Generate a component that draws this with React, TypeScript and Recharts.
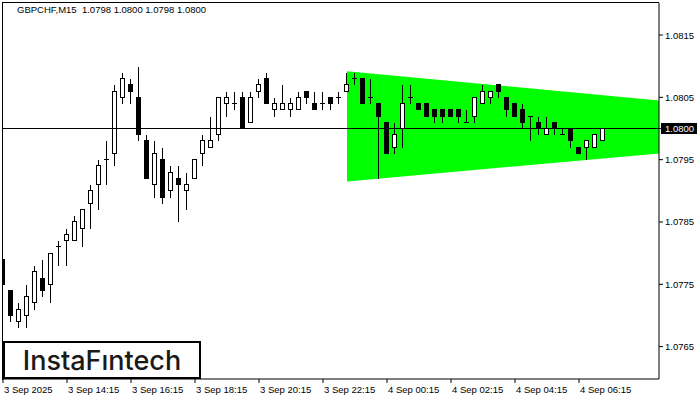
import React from 'react';
import { ComposedChart, Bar, Area, XAxis, YAxis, ReferenceLine } from 'recharts';

// GBPCHF M15 candles, 3 Sep 12:15 .. 4 Sep 07:00
const opens = [
  1.0779, 1.0774, 1.0769, 1.077, 1.0772, 1.0776, 1.0775, 1.0781, 1.0782, 1.0782,
  1.0784, 1.0788, 1.0791, 1.0795, 1.0796, 1.0805, 1.0807, 1.0805, 1.0798, 1.0791,
  1.0795, 1.079, 1.0792, 1.079, 1.0792, 1.0796, 1.0797, 1.0799, 1.0804, 1.0804,
  1.0805, 1.0801, 1.0806, 1.0808, 1.0803, 1.0803, 1.0803, 1.0803, 1.0806, 1.0804,
  1.0804, 1.0805, 1.0805, 1.0806, 1.0808, 1.0808, 1.0805, 1.0804, 1.0801, 1.0797,
  1.08, 1.0805, 1.0804, 1.0804, 1.0803, 1.0803, 1.0803, 1.0803, 1.0801, 1.0802,
  1.0804, 1.0805, 1.0807, 1.0805, 1.0804, 1.0803, 1.0802, 1.0801, 1.0799, 1.0801,
  1.0799, 1.08, 1.0797, 1.0797, 1.0797, 1.0798,
];
const highs = [
  1.0782, 1.0774, 1.0772, 1.0775, 1.0778, 1.0779, 1.078, 1.0782, 1.0784, 1.0786,
  1.0787, 1.0791, 1.0795, 1.0798, 1.0807, 1.0809, 1.0808, 1.081, 1.0799, 1.0798,
  1.0797, 1.0794, 1.0794, 1.0793, 1.0795, 1.0799, 1.0802, 1.0805, 1.0806, 1.0806,
  1.0806, 1.0806, 1.0808, 1.0809, 1.0805, 1.0807, 1.0805, 1.0806, 1.0806, 1.0806,
  1.0806, 1.0805, 1.0806, 1.0809, 1.0809, 1.0808, 1.0808, 1.0804, 1.0801, 1.0801,
  1.0807, 1.0807, 1.0804, 1.0804, 1.0803, 1.0803, 1.0803, 1.0803, 1.0803, 1.0805,
  1.0807, 1.0806, 1.0807, 1.0805, 1.0804, 1.0804, 1.0802, 1.0802, 1.0802, 1.0801,
  1.08, 1.08, 1.0797, 1.0798, 1.0799, 1.08,
];
const lows = [
  1.0774, 1.0769, 1.0768, 1.0768, 1.0771, 1.0773, 1.0772, 1.0778, 1.0778, 1.0782,
  1.0781, 1.0784, 1.0787, 1.0791, 1.0794, 1.0804, 1.0804, 1.0798, 1.0792, 1.0789,
  1.0788, 1.0789, 1.0785, 1.0787, 1.0792, 1.0794, 1.0797, 1.0798, 1.0802, 1.0803,
  1.08, 1.0801, 1.0805, 1.0804, 1.0802, 1.0803, 1.0802, 1.0803, 1.0804, 1.0803,
  1.0803, 1.0803, 1.0804, 1.0806, 1.0807, 1.0804, 1.0804, 1.0792, 1.0796, 1.0796,
  1.0797, 1.0804, 1.0803, 1.0802, 1.0801, 1.0801, 1.0802, 1.0801, 1.0801, 1.0801,
  1.0804, 1.0804, 1.0805, 1.0802, 1.0802, 1.08, 1.0798, 1.0799, 1.0799, 1.0799,
  1.0799, 1.0797, 1.0796, 1.0795, 1.0797, 1.0798,
];
const closes = [
  1.0775, 1.077, 1.0771, 1.0773, 1.0777, 1.0774, 1.078, 1.0781, 1.0783, 1.0785,
  1.0787, 1.079, 1.0794, 1.0795, 1.0806, 1.0808, 1.0806, 1.0799, 1.0792, 1.0796,
  1.0789, 1.0793, 1.0791, 1.0791, 1.0795, 1.0798, 1.0798, 1.0805, 1.0805, 1.0804,
  1.08, 1.0805, 1.0807, 1.0804, 1.0804, 1.0804, 1.0804, 1.0805, 1.0805, 1.0803,
  1.0804, 1.0804, 1.0805, 1.0807, 1.0808, 1.0804, 1.0805, 1.0802, 1.0796, 1.0799,
  1.0804, 1.0805, 1.0803, 1.0802, 1.0802, 1.0802, 1.0802, 1.0802, 1.0801, 1.0805,
  1.0806, 1.0806, 1.0806, 1.0803, 1.0802, 1.0801, 1.0802, 1.08, 1.08, 1.08,
  1.0799, 1.0798, 1.0796, 1.0798, 1.0799, 1.08,
];

const xTickIdx = [0, 8, 16, 24, 32, 40, 48, 56, 64, 72];
const xTickLabels = [
  '3 Sep 2025', '3 Sep 14:15', '3 Sep 16:15', '3 Sep 18:15', '3 Sep 20:15',
  '3 Sep 22:15', '4 Sep 00:15', '4 Sep 02:15', '4 Sep 04:15', '4 Sep 06:15',
];
const yTicks = [1.0765, 1.0775, 1.0785, 1.0795, 1.08, 1.0805, 1.0815];
const bidPrice = 1.08;

// triangle pattern: start / end slot and its upper and lower edge
const triIdx = [43, 82];
const triUpper = [1.08092, 1.08045];
const triLower = [1.07915, 1.0796];

const candles = opens.map((o, i) => ({
  i,
  o,
  h: highs[i],
  l: lows[i],
  c: closes[i],
  range: [lows[i], highs[i]],
}));
const triangle = triIdx.map((i, k) => ({ i, band: [triLower[k], triUpper[k]] }));

const FONT = "'Liberation Sans', Arial, sans-serif";

function Candle(props: any) {
  const { x, y, width, height, payload } = props;
  if (x == null || y == null || !payload) return null;
  const top = Math.min(y, y + height);
  const span = Math.abs(height);
  const r = payload.h - payload.l;
  const toY = (v: number) => (r > 0 ? top + ((payload.h - v) / r) * span : top);
  const px = (v: number) => Math.floor(toY(v)) + 0.5;
  const cx = Math.floor(x + width / 2) + 0.5;
  const bt = Math.min(px(payload.o), px(payload.c));
  const bb = Math.max(px(payload.o), px(payload.c));
  const up = payload.c >= payload.o;
  return (
    <g shapeRendering="crispEdges">
      <line x1={cx} x2={cx} y1={px(payload.h)} y2={px(payload.l)} stroke="#000" />
      {bb - bt < 1 ? (
        <line x1={cx - 2.5} x2={cx + 2.5} y1={bt} y2={bt} stroke="#000" />
      ) : (
        <rect x={cx - 2} y={bt} width={4} height={bb - bt} fill={up ? '#fff' : '#000'} stroke="#000" />
      )}
    </g>
  );
}

function YTick(props: any) {
  const { x, y, payload } = props;
  const v = payload.value as number;
  const label = v.toFixed(4);
  if (Math.abs(v - bidPrice) < 1e-9) {
    return (
      <g>
        <rect x={x - 4} y={y - 5.5} width={36} height={11} fill="#000" />
        <text x={x} y={y + 3.5} fill="#fff" fontSize={9.5} fontFamily={FONT} textAnchor="start">
          {label}
        </text>
      </g>
    );
  }
  return (
    <text x={x} y={y + 3.5} fill="#000" fontSize={9.5} fontFamily={FONT} textAnchor="start">
      {label}
    </text>
  );
}

function XTick(props: any) {
  const { x, y, payload } = props;
  const k = xTickIdx.indexOf(payload.value);
  return (
    <text x={x + 1} y={y + 8} fill="#000" fontSize={9.5} fontFamily={FONT} textAnchor="start">
      {k >= 0 ? xTickLabels[k] : ''}
    </text>
  );
}

export default function App() {
  return (
    <div style={{ position: 'fixed', left: 0, top: 0, width: 700, height: 400, background: '#fff', fontFamily: FONT }}>
      <ComposedChart width={700} height={400} data={candles} margin={{ top: 3, right: 0, bottom: 0, left: 3 }}>
        <XAxis
          dataKey="i"
          type="number"
          domain={[0, 82]}
          allowDataOverflow
          ticks={xTickIdx}
          interval={0}
          height={21}
          tickSize={4}
          stroke="#000"
          tick={<XTick />}
        />
        <YAxis
          orientation="right"
          type="number"
          domain={[1.0759804, 1.0820138]}
          allowDataOverflow
          ticks={yTicks}
          interval={0}
          width={41}
          tickSize={4}
          stroke="#000"
          tick={<YTick />}
        />
        <Area
          data={triangle}
          dataKey="band"
          type="linear"
          stroke="none"
          fill="#00ff00"
          fillOpacity={1}
          isAnimationActive={false}
        />
        <Bar dataKey="range" barSize={5} shape={<Candle />} isAnimationActive={false} />
        <ReferenceLine y={bidPrice} stroke="#000" shapeRendering="crispEdges" />
      </ComposedChart>
      <div
        style={{
          position: 'absolute',
          left: 2,
          top: 2,
          width: 657,
          height: 378,
          boxSizing: 'border-box',
          borderTop: '1px solid #000',
          borderLeft: '1px solid #000',
          pointerEvents: 'none',
        }}
      />
      <div style={{ position: 'absolute', left: 17, top: 4, fontSize: 9.5, whiteSpace: 'pre', color: '#000' }}>
        GBPCHF,M15  1.0798 1.0800 1.0798 1.0800
      </div>
      <div
        style={{
          position: 'absolute',
          left: 3,
          top: 341,
          width: 198,
          height: 38,
          boxSizing: 'border-box',
          border: '2.5px solid #000',
          background: '#fff',
          display: 'flex',
          alignItems: 'center',
          justifyContent: 'center',
          fontFamily: 'Inter, sans-serif',
          fontWeight: 500,
          fontSize: 27,
          color: '#1a1a1a',
        }}
      >
        InstaFıntech
      </div>
    </div>
  );
}
